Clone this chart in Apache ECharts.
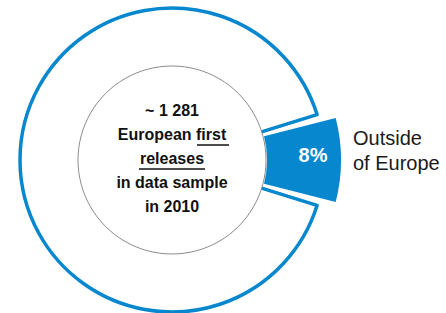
<!DOCTYPE html>
<html>
<head>
<meta charset="utf-8">
<script src="https://cdn.jsdelivr.net/npm/echarts@6/dist/echarts.min.js"></script>
<style>
  html, body { margin: 0; padding: 0; background: #fff; }
  #chart { width: 446px; height: 313px; }
</style>
</head>
<body>
<div id="chart"></div>
<script>
const categories = ["Outside of Europe", "Europe"];
const shares = [8, 92];
const centerLines = ["~ 1 281", "European {u|first}", "{u|releases}", "in data sample", "in 2010"];
const sideLabel = ["Outside", "of Europe"];

const BLUE = "#0787cd";
const FONT = "Liberation Sans, Arial, sans-serif";
const CX = 172;
const CY = 160;

const chart = echarts.init(document.getElementById("chart"), null, { renderer: "svg" });

// outline ring: Europe slice drawn white with blue border, the other slice is a placeholder
const ringData = categories.map((name, i) => ({
  name,
  value: shares[i],
  itemStyle: i === 0
    ? { color: "transparent", borderWidth: 0 }
    : { color: "#fff", borderColor: BLUE, borderWidth: 3.5 },
  label: i === 0
    ? {
        show: true,
        position: "outside",
        formatter: () => sideLabel.join("\n"),
        fontFamily: FONT,
        fontSize: 20,
        lineHeight: 25,
        color: "#1a1a1a",
        overflow: "none",
        width: 120,
        offset: [0, -10],
      }
    : { show: false },
}));

// highlighted slice, sticking out beyond the ring
const sliceData = categories.map((name, i) => ({
  name,
  value: shares[i],
  itemStyle: i === 0 ? { color: BLUE } : { color: "transparent" },
  label: i === 0
    ? {
        show: true,
        position: "inside",
        formatter: (p) => p.value + "%",
        fontFamily: FONT,
        fontSize: 20,
        fontWeight: "bold",
        color: "#fff",
        offset: [6, -5],
      }
    : { show: false },
}));

chart.setOption({
  animation: false,
  series: [
    {
      type: "pie",
      center: [CX, CY],
      radius: [88, 152],
      startAngle: 14.4,
      padAngle: 6,
      silent: true,
      labelLine: { show: false, length: 0, length2: 24 },
      data: ringData,
    },
    {
      type: "pie",
      center: [CX, CY],
      radius: [95, 169],
      startAngle: 14.4,
      silent: true,
      labelLine: { show: false },
      data: sliceData,
    },
  ],
  graphic: [
    {
      type: "circle",
      z: 100,
      shape: { cx: CX, cy: CY, r: 94 },
      style: { fill: "#fff", stroke: "#8c8c8c", lineWidth: 1 },
    },
    {
      type: "text",
      z: 101,
      x: CX,
      y: CY - 2,
      style: {
        text: centerLines.join("\n"),
        align: "center",
        verticalAlign: "middle",
        fontFamily: FONT,
        fontSize: 16,
        fontWeight: "bold",
        lineHeight: 24,
        fill: "#111",
        rich: {
          u: { fontFamily: FONT, fontSize: 16, fontWeight: "bold", lineHeight: 24, color: "#111" },
        },
      },
    },
    // underlines for "first" and "releases"
    { type: "line", z: 101, shape: { x1: 197, y1: 145, x2: 229, y2: 145 }, style: { stroke: "#111", lineWidth: 1.5 } },
    { type: "line", z: 101, shape: { x1: 139, y1: 169, x2: 205, y2: 169 }, style: { stroke: "#111", lineWidth: 1.5 } },
  ],
});
</script>
</body>
</html>
